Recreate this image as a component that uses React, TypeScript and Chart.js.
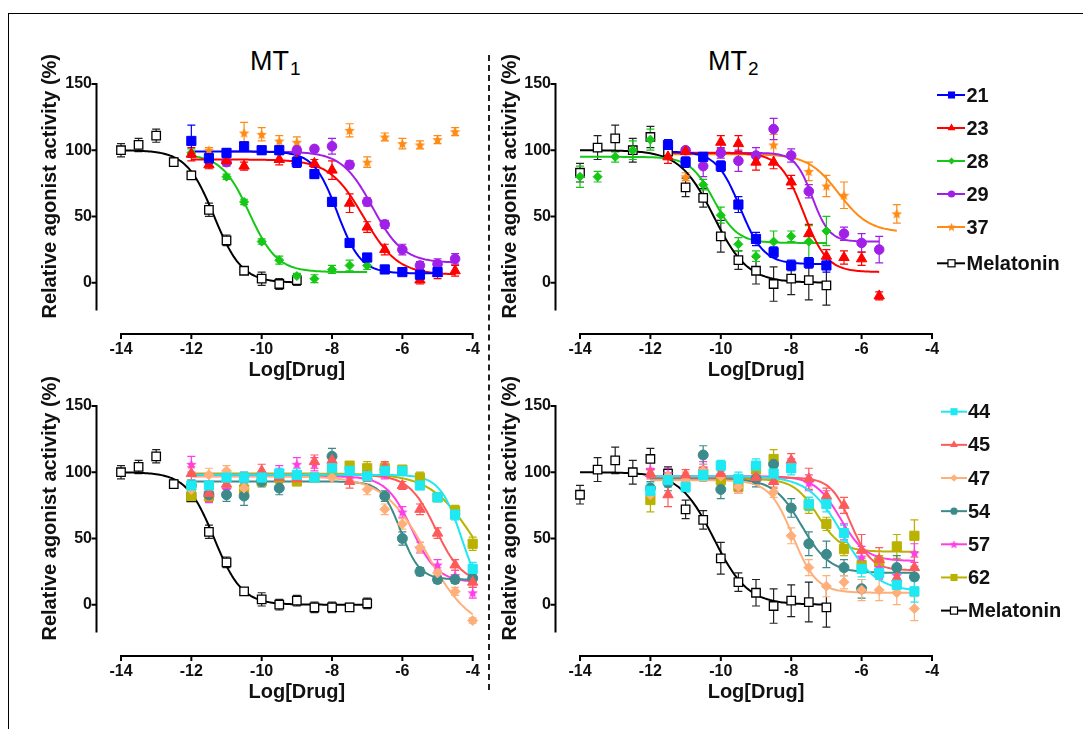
import React, { useEffect, useRef } from 'react';
import { Chart, registerables } from 'chart.js';

Chart.register(...registerables);

const FONT = '"Liberation Sans", Arial, Helvetica, sans-serif';
const _ = null;

// shared dose grid (log M)
const LOG_DOSE = [-14, -13.5, -13, -12.5, -12, -11.5, -11, -10.5, -10, -9.5, -9, -8.5, -8, -7.5, -7, -6.5, -6, -5.5, -5, -4.5, -4];
const X_TICKS = [-14, -12, -10, -8, -6, -4];
const Y_TICKS = [0, 50, 100, 150];

// ---- MT1, compounds 21-37 ----
const MEL_MT1_A = [100, 104, 111, 91, 81, 55, 32, 9, 3, -1, 2, _, _, _, _, _, _, _, _, _, _];
const MEL_MT1_A_ERR = [5, 5, 5, 3, 3, 5, 4, 2, 5, 4, 4, _, _, _, _, _, _, _, _, _, _];
const C21_A = [_, _, _, _, 107, 94, 98, 103, 100, 100, 91, 82, 61, 30, 19, 10, 8, 6, 8, _, _];
const C21_A_ERR = [_, _, _, _, 12, 4, 3, 3, 3, 3, 4, 3, 3, 2, 3, 2, 2, 3, 3, _, _];
const C23_A = [_, _, _, _, 97, 89, 92, 88, _, 93, 92, 90, 85, 60, 42, 25, _, 2, 7, 9, _];
const C23_A_ERR = [_, _, _, _, 5, 3, 3, 3, _, 4, 5, 3, 7, 7, 4, 4, _, 3, 4, 4, _];
const C28_A = [_, _, _, _, 98, _, 80, 61, 31, 17, 5, 3, 10, 13, 13, _, _, _, _, _, _];
const C28_A_ERR = [_, _, _, _, 3, _, 2, 2, 2, 3, 2, 3, 3, 4, 3, _, _, _, _, _, _];
const C29_A = [_, _, _, _, _, _, 91, _, _, _, 100, 101, 103, 89, 61, 44, 25, 13, 14, 18, _];
const C29_A_ERR = [_, _, _, _, _, _, 3, _, _, _, 3, 2, 6, 3, 3, 3, 4, 3, 4, 4, _];
const C37_A = [_, _, _, _, _, 100, _, 113, 112, 107, 106, _, _, 115, 91, 110, 105, 104, 108, 114, _];
const C37_A_ERR = [_, _, _, _, _, 2, _, 8, 5, 4, 4, _, _, 5, 4, 3, 4, 3, 3, 3, _];

// ---- MT2, compounds 21-37 ----
const MEL_MT2 = [83, 102, 109, 100, 110, 99, 72, 64, 35, 17, 9, -1, 3, 2, -2, _, _, _, _, _, _];
const MEL_MT2_ERR = [7, 9, 10, 9, 8, 5, 7, 7, 12, 7, 10, 13, 12, 15, 15, _, _, _, _, _, _];
const C21_B = [_, _, _, _, _, 104, 91, 95, 88, 59, 33, 23, 13, 15, 13, _, _, _, _, _, _];
const C21_B_ERR = [_, _, _, _, _, 4, 4, 3, 4, 6, 5, 4, 4, 4, 5, _, _, _, _, _, _];
const C23_B = [_, _, _, _, _, 95, 99, _, 106, 105, 91, 91, 76, 37, 20, 19, 18, -10, _, _, _];
const C23_B_ERR = [_, _, _, _, _, 5, 2, _, 5, 6, 6, 5, 5, 7, 5, 5, 5, 3, _, _, _];
const C28_B = [80, 80, 95, 100, 108, _, _, 74, 51, 29, 20, 31, 35, 31, 39, _, _, _, _, _, _];
const C28_B_ERR = [8, 4, 4, 7, 8, _, _, 4, 6, 5, 4, 8, 4, 12, 11, _, _, _, _, _, _];
const C29_B = [_, _, _, _, _, _, 100, 88, 98, 92, 96, 116, 96, 69, _, 37, 30, 25, _, _, _];
const C29_B_ERR = [_, _, _, _, _, _, 2, 8, 4, 8, 6, 8, 5, 5, _, 5, 7, 10, _, _, _];
const C37_B = [_, _, _, _, _, _, 80, _, _, _, _, 104, _, 84, 73, 66, _, _, 52, _, _];
const C37_B_ERR = [_, _, _, _, _, _, 3, _, _, _, _, 8, _, 7, 8, 10, _, _, 7, _, _];

// ---- MT1, compounds 44-62 ----
const MEL_MT1_C = [100, 104, 112, 91, 81, 55, 32, 10, 4, 0, 3, -2, -2, -2, 1, _, _, _, _, _, _];
const MEL_MT1_C_ERR = [5, 5, 5, 3, 3, 5, 4, 2, 5, 4, 4, 4, 4, 3, 4, _, _, _, _, _, _];
const C44_C = [_, _, _, _, 90, 90, 96, 96, 96, 99, 98, 96, 103, 101, 97, 101, 101, 90, 81, 68, 27];
const C44_C_ERR = [_, _, _, _, 4, 3, 3, 4, 3, 4, 5, 3, 4, 3, 3, 3, 3, 3, 3, 4, 5];
const C45_C = [_, _, _, _, 99, 84, 91, _, 101, 96, 95, 108, 109, 93, 97, 104, 90, 72, 54, 30, 17];
const C45_C_ERR = [_, _, _, _, 5, 6, 4, _, 5, 4, 5, 5, 5, 5, 4, 4, 3, 4, 4, 4, 4];
const C47_C = [_, _, _, _, 87, 98, 101, 88, _, _, _, _, 96, _, 87, 72, 61, 43, 24, 10, -12];
const C47_C_ERR = [_, _, _, _, 4, 5, 4, 5, _, _, _, _, 3, _, 4, 4, 4, 4, 4, 3, 2];
const C54_C = [_, _, _, _, 90, 83, 83, 82, 93, 88, _, _, 112, _, _, 82, 50, 25, 19, 19, 20];
const C54_C_ERR = [_, _, _, _, 4, 5, 5, 7, 4, 5, _, _, 6, _, _, 4, 5, 3, 3, 3, 3];
const C57_C = [_, _, _, _, 106, 85, 87, 96, _, 101, 106, 106, _, 99, _, 99, 70, 43, 30, 22, 9];
const C57_C_ERR = [_, _, _, _, 6, 8, 6, 4, _, 4, 5, 5, _, 4, _, 4, 4, 4, 4, 4, 4];
const C62_C = [_, _, _, _, 82, 82, _, 87, 93, 96, 93, 96, 102, 105, 103, 103, 102, 96, 81, 71, 46];
const C62_C_ERR = [_, _, _, _, 3, 3, _, 4, 3, 4, 3, 3, 4, 3, 5, 4, 3, 4, 3, 4, 5];

// ---- MT2, compounds 44-62 ----
const C44_D = [_, _, _, _, 86, 94, 89, 98, 105, 95, 105, 99, 103, 76, 76, 54, 27, 24, 15, 10, _];
const C44_D_ERR = [_, _, _, _, 6, 5, 4, 5, 4, 5, 5, 5, 5, 5, 6, 6, 6, 5, 5, 8, _];
const C45_D = [_, _, _, _, 99, 83, 98, _, 99, _, 96, 93, 109, 95, 82, 75, 41, 34, 20, 28, _];
const C45_D_ERR = [_, _, _, _, 4, 9, 4, _, 5, _, 5, 5, 5, 8, 6, 6, 12, 9, 6, 8, _];
const C47_D = [_, _, _, _, 83, 97, 94, 101, 97, 89, _, 85, 52, 28, 14, 17, 11, 11, 9, -3, _];
const C47_D_ERR = [_, _, _, _, 5, 4, 6, 5, 4, 5, _, 4, 6, 6, 8, 5, 8, 8, 9, 9, _];
const C54_D = [_, _, _, _, 88, 92, _, 113, 87, _, 95, 106, 73, 46, 38, 28, 12, _, 28, 21, _];
const C54_D_ERR = [_, _, _, _, 5, 6, _, 7, 7, _, 6, 6, 7, 9, 10, 6, 7, _, 9, 8, _];
const C57_D = [_, _, _, _, 102, 99, _, 103, 98, 89, _, 99, 105, 92, 80, 55, 36, 28, 22, 39, _];
const C57_D_ERR = [_, _, _, _, 6, 4, _, 5, 5, 5, _, 5, 5, 6, 6, 6, 8, 8, 6, 7, _];
const C62_D = [_, _, _, _, 79, 94, _, 99, 94, 89, 102, 110, _, 75, 61, 42, 30, 32, 44, 52, _];
const C62_D_ERR = [_, _, _, _, 9, 5, _, 5, 4, 5, 5, 7, _, 6, 5, 5, 5, 5, 9, 12, _];

// fitted 4-parameter curves: [top, bottom, logEC50, hill, fromX, toX]
const FIT_MEL_A = [100, 0, -11.35, 1.1, -14, -9];
const FIT_21_A = [99, 7, -7.85, 1.3, -12, -5];
const FIT_23_A = [93, 6, -7.1, 0.9, -12, -4.5];
const FIT_28_A = [97, 8, -10.35, 1.1, -12, -7];
const FIT_29_A = [99, 15, -6.85, 1.0, -11, -4.5];
const FIT_MEL_B = [100, 0, -10.2, 0.9, -14, -7];
const FIT_21_B = [99, 14, -9.45, 1.3, -11.5, -7];
const FIT_23_B = [98, 8, -7.65, 1.3, -11.5, -5.5];
const FIT_28_B = [95, 30, -10.2, 1.3, -14, -7];
const FIT_29_B = [98, 31, -7.4, 1.8, -11.5, -5.5];
const FIT_37_B = [97, 38, -6.65, 1.0, -11.5, -5];
const FIT_MEL_C = [100, 0, -11.35, 1.1, -14, -7];
const FIT_44_C = [98, 0, -4.3, 1.4, -12, -4];
const FIT_45_C = [98, 16, -5.05, 1.15, -12, -4];
const FIT_47_C = [97, -20, -5.3, 0.7, -12, -4];
const FIT_54_C = [93, 19, -6.05, 1.6, -12, -4];
const FIT_57_C = [97, 17, -5.73, 1.2, -12, -4];
const FIT_62_C = [99, 0, -3.96, 0.7, -12, -4];
const FIT_44_D = [97, 10, -6.55, 0.9, -12, -4.5];
const FIT_45_D = [96, 26, -6.3, 1.5, -12, -4.5];
const FIT_47_D = [94, 9, -7.95, 1.3, -12, -4.5];
const FIT_54_D = [95, 24, -7.7, 1.1, -12, -4.5];
const FIT_57_D = [97, 33, -6.6, 1.2, -12, -4.5];
const FIT_62_D = [95, 40, -7.25, 1.3, -12, -4.5];

type Shape = 'rect' | 'triangle' | 'rectRot' | 'circle' | 'star' | 'open';
interface Series {
  label: string;
  values: (number | null)[];
  errors: (number | null)[];
  fit: number[] | null;
  color: string;
  shape: Shape;
  r: number;
  lr: number;
}

const COL = {
  c21: '#0000ff', c23: '#ff0000', c28: '#16c816', c29: '#a020e8', c37: '#ff8a14',
  c44: '#1ee8f2', c45: '#ff5a5a', c47: '#ffb07a', c54: '#3d8a8a', c57: '#ff3ee6', c62: '#bab200',
  mel: '#000000',
};

const PANEL_A: Series[] = [
  { label: '21', values: C21_A, errors: C21_A_ERR, fit: FIT_21_A, color: COL.c21, shape: 'rect', r: 6.5, lr: 5 },
  { label: '23', values: C23_A, errors: C23_A_ERR, fit: FIT_23_A, color: COL.c23, shape: 'triangle', r: 6, lr: 4.5 },
  { label: '28', values: C28_A, errors: C28_A_ERR, fit: FIT_28_A, color: COL.c28, shape: 'rectRot', r: 4.5, lr: 3.5 },
  { label: '29', values: C29_A, errors: C29_A_ERR, fit: FIT_29_A, color: COL.c29, shape: 'circle', r: 4.8, lr: 3.6 },
  { label: '37', values: C37_A, errors: C37_A_ERR, fit: null, color: COL.c37, shape: 'star', r: 5.5, lr: 4.5 },
  { label: 'Melatonin', values: MEL_MT1_A, errors: MEL_MT1_A_ERR, fit: FIT_MEL_A, color: COL.mel, shape: 'open', r: 6, lr: 5 },
];
const PANEL_B: Series[] = [
  { label: '21', values: C21_B, errors: C21_B_ERR, fit: FIT_21_B, color: COL.c21, shape: 'rect', r: 6.5, lr: 5 },
  { label: '23', values: C23_B, errors: C23_B_ERR, fit: FIT_23_B, color: COL.c23, shape: 'triangle', r: 6, lr: 4.5 },
  { label: '28', values: C28_B, errors: C28_B_ERR, fit: FIT_28_B, color: COL.c28, shape: 'rectRot', r: 4.5, lr: 3.5 },
  { label: '29', values: C29_B, errors: C29_B_ERR, fit: FIT_29_B, color: COL.c29, shape: 'circle', r: 4.8, lr: 3.6 },
  { label: '37', values: C37_B, errors: C37_B_ERR, fit: FIT_37_B, color: COL.c37, shape: 'star', r: 5.5, lr: 4.5 },
  { label: 'Melatonin', values: MEL_MT2, errors: MEL_MT2_ERR, fit: FIT_MEL_B, color: COL.mel, shape: 'open', r: 6, lr: 5 },
];
const PANEL_C: Series[] = [
  { label: '44', values: C44_C, errors: C44_C_ERR, fit: FIT_44_C, color: COL.c44, shape: 'rect', r: 6.5, lr: 5 },
  { label: '45', values: C45_C, errors: C45_C_ERR, fit: FIT_45_C, color: COL.c45, shape: 'triangle', r: 6, lr: 4.5 },
  { label: '47', values: C47_C, errors: C47_C_ERR, fit: FIT_47_C, color: COL.c47, shape: 'rectRot', r: 5, lr: 3.8 },
  { label: '54', values: C54_C, errors: C54_C_ERR, fit: FIT_54_C, color: COL.c54, shape: 'circle', r: 5, lr: 3.6 },
  { label: '57', values: C57_C, errors: C57_C_ERR, fit: FIT_57_C, color: COL.c57, shape: 'star', r: 5.5, lr: 4.5 },
  { label: '62', values: C62_C, errors: C62_C_ERR, fit: FIT_62_C, color: COL.c62, shape: 'rect', r: 6.5, lr: 5 },
  { label: 'Melatonin', values: MEL_MT1_C, errors: MEL_MT1_C_ERR, fit: FIT_MEL_C, color: COL.mel, shape: 'open', r: 6, lr: 5 },
];
const PANEL_D: Series[] = [
  { label: '44', values: C44_D, errors: C44_D_ERR, fit: FIT_44_D, color: COL.c44, shape: 'rect', r: 6.5, lr: 5 },
  { label: '45', values: C45_D, errors: C45_D_ERR, fit: FIT_45_D, color: COL.c45, shape: 'triangle', r: 6, lr: 4.5 },
  { label: '47', values: C47_D, errors: C47_D_ERR, fit: FIT_47_D, color: COL.c47, shape: 'rectRot', r: 5, lr: 3.8 },
  { label: '54', values: C54_D, errors: C54_D_ERR, fit: FIT_54_D, color: COL.c54, shape: 'circle', r: 5, lr: 3.6 },
  { label: '57', values: C57_D, errors: C57_D_ERR, fit: FIT_57_D, color: COL.c57, shape: 'star', r: 5.5, lr: 4.5 },
  { label: '62', values: C62_D, errors: C62_D_ERR, fit: FIT_62_D, color: COL.c62, shape: 'rect', r: 6.5, lr: 5 },
  { label: 'Melatonin', values: MEL_MT2, errors: MEL_MT2_ERR, fit: FIT_MEL_B, color: COL.mel, shape: 'open', r: 6, lr: 5 },
];

function makeStar(color: string, size: number): HTMLCanvasElement {
  const c = document.createElement('canvas');
  const s = Math.ceil(size);
  c.width = s;
  c.height = s;
  const g = c.getContext('2d')!;
  const cx = s / 2, cy = s / 2 + 0.4, R = s / 2, r = R * 0.45;
  g.beginPath();
  for (let i = 0; i < 10; i++) {
    const a = -Math.PI / 2 + (i * Math.PI) / 5;
    const rad = i % 2 === 0 ? R : r;
    g.lineTo(cx + rad * Math.cos(a), cy + rad * Math.sin(a));
  }
  g.closePath();
  g.fillStyle = color;
  g.fill();
  return c;
}

function fitCurve(fit: number[]) {
  const [T, B, c, h, x0, x1] = fit;
  const pts: { x: number; y: number }[] = [];
  const n = Math.round((x1 - x0) / 0.05);
  for (let i = 0; i <= n; i++) {
    const x = x0 + ((x1 - x0) * i) / n;
    pts.push({ x, y: B + (T - B) / (1 + Math.pow(10, (x - c) * h)) });
  }
  return pts;
}

function drawMarker(ctx: CanvasRenderingContext2D, s: Series, x: number, y: number, r: number) {
  ctx.save();
  ctx.fillStyle = s.color;
  ctx.strokeStyle = s.color;
  if (s.shape === 'rect' || s.shape === 'open') {
    const h = r * Math.SQRT1_2;
    if (s.shape === 'open') {
      ctx.fillStyle = '#fff';
      ctx.fillRect(x - h, y - h, 2 * h, 2 * h);
      ctx.lineWidth = 1.2;
      ctx.strokeStyle = '#000';
      ctx.strokeRect(x - h, y - h, 2 * h, 2 * h);
    } else {
      ctx.fillRect(x - h, y - h, 2 * h, 2 * h);
    }
  } else if (s.shape === 'triangle') {
    ctx.beginPath();
    for (let i = 0; i < 3; i++) {
      const a = (i * 2 * Math.PI) / 3;
      ctx.lineTo(x + Math.sin(a) * r, y - Math.cos(a) * r);
    }
    ctx.closePath();
    ctx.fill();
  } else if (s.shape === 'rectRot') {
    ctx.beginPath();
    ctx.moveTo(x, y - r);
    ctx.lineTo(x + r, y);
    ctx.lineTo(x, y + r);
    ctx.lineTo(x - r, y);
    ctx.closePath();
    ctx.fill();
  } else if (s.shape === 'circle') {
    ctx.beginPath();
    ctx.arc(x, y, r, 0, Math.PI * 2);
    ctx.fill();
  } else if (s.shape === 'star') {
    const img = makeStar(s.color, r * 2);
    ctx.drawImage(img, x - img.width / 2, y - img.height / 2);
  }
  ctx.restore();
}

interface LegendSpec {
  x0: number; x1: number; mx: number; tx: number; y0: number; dy: number; lastExtra: number;
}

interface PanelProps {
  left: number; top: number; width: number; height: number;
  padRight: number; yWidth: number; series: Series[]; legend?: LegendSpec;
}

function Panel({ left, top, width, height, padRight, yWidth, series, legend }: PanelProps) {
  const ref = useRef<HTMLCanvasElement | null>(null);
  useEffect(() => {
    if (!ref.current) return;
    const datasets: any[] = [];
    series.forEach((s) => {
      if (s.fit) {
        datasets.push({
          type: 'line', label: s.label + ' fit', data: fitCurve(s.fit), borderColor: s.color,
          borderWidth: 2, pointRadius: 0, pointHoverRadius: 0, tension: 0, fill: false, order: 2, clip: false,
        });
      }
    });
    series.forEach((s) => {
      const pts: any[] = [];
      LOG_DOSE.forEach((x, i) => {
        const v = s.values[i];
        if (v !== null && v !== undefined) pts.push({ x, y: v, e: s.errors[i] ?? 0 });
      });
      const style = s.shape === 'star' ? makeStar(s.color, s.r * 2) : s.shape === 'open' ? 'rect' : s.shape;
      datasets.push({
        type: 'scatter', label: s.label, data: pts, order: 1, clip: false, showLine: false,
        pointStyle: style, pointRadius: s.r, pointHoverRadius: s.r,
        backgroundColor: s.shape === 'open' ? '#ffffff' : s.color,
        borderColor: s.color, borderWidth: s.shape === 'open' ? 1.3 : 1,
        errColor: s.shape === 'open' ? '#222' : s.color,
      });
    });

    const decor = {
      id: 'decor',
      beforeDatasetsDraw(chart: any) {
        const { ctx, chartArea: ca } = chart;
        const xs = chart.scales.x, ys = chart.scales.y;
        ctx.save();
        ctx.strokeStyle = '#000';
        ctx.lineWidth = 2;
        const ax = ca.left - 24.5;
        ctx.beginPath();
        ctx.moveTo(ax, ys.getPixelForValue(150) - 1);
        ctx.lineTo(ax, ca.bottom);
        Y_TICKS.forEach((v) => {
          const p = ys.getPixelForValue(v);
          ctx.moveTo(ax - 5, p);
          ctx.lineTo(ax + 1, p);
        });
        const ay = ca.bottom + 23.5;
        ctx.moveTo(xs.getPixelForValue(-14) - 1, ay);
        ctx.lineTo(xs.getPixelForValue(-4) + 1, ay);
        X_TICKS.forEach((v) => {
          const p = xs.getPixelForValue(v);
          ctx.moveTo(p, ay - 1);
          ctx.lineTo(p, ay + 5);
        });
        ctx.stroke();
        for (let i = chart.data.datasets.length - 1; i >= 0; i--) {
          const ds = chart.data.datasets[i];
          if (ds.type !== 'scatter') continue;
          const meta = chart.getDatasetMeta(i);
          ctx.strokeStyle = ds.errColor;
          ctx.lineWidth = 1.2;
          ctx.beginPath();
          meta.data.forEach((el: any, j: number) => {
            const raw = ds.data[j];
            if (!raw || !raw.e) return;
            const px = el.x;
            const t = ys.getPixelForValue(raw.y + raw.e);
            const b = ys.getPixelForValue(raw.y - raw.e);
            ctx.moveTo(px, t); ctx.lineTo(px, b);
            ctx.moveTo(px - 4, t); ctx.lineTo(px + 4, t);
            ctx.moveTo(px - 4, b); ctx.lineTo(px + 4, b);
          });
          ctx.stroke();
        }
        ctx.restore();
      },
      afterDraw(chart: any) {
        if (!legend) return;
        const ctx = chart.ctx;
        ctx.save();
        series.forEach((s, i) => {
          const y = legend.y0 + i * legend.dy + (i === series.length - 1 ? legend.lastExtra : 0);
          ctx.strokeStyle = s.color;
          ctx.lineWidth = 2;
          ctx.beginPath();
          ctx.moveTo(legend.x0, y);
          ctx.lineTo(legend.x1, y);
          ctx.stroke();
          drawMarker(ctx, s, legend.mx, y, s.lr);
          ctx.fillStyle = '#111';
          ctx.font = `bold 20px ${FONT}`;
          ctx.textAlign = 'left';
          ctx.textBaseline = 'middle';
          ctx.fillText(s.label, legend.tx, y + 1);
        });
        ctx.restore();
      },
    };

    const tickFont = { family: FONT, size: 16, weight: 'bold' as const };
    const titleFont = { family: FONT, size: 20, weight: 'bold' as const };
    const chart = new Chart(ref.current, {
      type: 'scatter',
      data: { datasets },
      options: {
        responsive: false,
        animation: false,
        events: [],
        layout: { padding: { left: 0, top: 12, right: padRight, bottom: 0 } },
        plugins: { legend: { display: false }, tooltip: { enabled: false } },
        scales: {
          x: {
            type: 'linear', position: 'bottom', min: -14, max: -4, bounds: 'data',
            afterBuildTicks: (s: any) => { s.ticks = X_TICKS.map((v) => ({ value: v })); },
            afterFit: (s: any) => { s.height = 89.5; s.paddingLeft = 0; s.paddingRight = 0; },
            grid: { display: false, drawTicks: false, tickLength: 0 },
            border: { display: false },
            ticks: { padding: 29, font: tickFont, color: '#111', autoSkip: false, maxRotation: 0, minRotation: 0, callback: (v: any) => String(v) },
            title: { display: true, text: 'Log[Drug]', font: titleFont, color: '#111', padding: { top: 0, bottom: 18 } },
          },
          y: {
            type: 'linear', position: 'left', min: -21, max: 166.6, bounds: 'data',
            afterBuildTicks: (s: any) => { s.ticks = Y_TICKS.map((v) => ({ value: v })); },
            afterFit: (s: any) => { s.width = yWidth; s.paddingTop = 0; s.paddingBottom = 0; },
            grid: { display: false, drawTicks: false, tickLength: 0 },
            border: { display: false },
            ticks: { padding: 29, font: tickFont, color: '#111', autoSkip: false, callback: (v: any) => String(v) },
            title: { display: true, text: 'Relative agonist activity (%)', font: titleFont, color: '#111', padding: { top: 8.5, bottom: 0 } },
          },
        },
      } as any,
      plugins: [decor],
    });
    return () => chart.destroy();
  }, []);
  return (
    <canvas
      ref={ref}
      width={width}
      height={height}
      style={{ position: 'absolute', left, top, width, height }}
    />
  );
}

function Title({ left, sub }: { left: number; sub: string }) {
  return (
    <div
      style={{
        position: 'absolute', left, top: 47.8, fontSize: 27, lineHeight: '27px',
        whiteSpace: 'nowrap', color: '#000', fontFamily: FONT,
      }}
    >
      MT<span style={{ fontSize: 19, position: 'relative', top: 5, marginLeft: 1 }}>{sub}</span>
    </div>
  );
}

export default function App() {
  return (
    <div
      style={{
        position: 'absolute', left: 0, top: 0, width: 1083, height: 729,
        overflow: 'hidden', background: '#fff', fontFamily: FONT,
      }}
    >
      <div
        style={{
          position: 'absolute', left: 8, top: 12.5, width: 1100, height: 740,
          borderTop: '1.5px solid #000', borderLeft: '1.5px solid #000', boxSizing: 'border-box',
        }}
      />
      <div style={{ position: 'absolute', left: 487.5, top: 55, height: 635, borderLeft: '2px dashed #222' }} />
      <Title left={250} sub="1" />
      <Title left={708} sub="2" />
      <Panel left={30} top={50} width={460} height={350} padRight={17.3} yWidth={91} series={PANEL_A} />
      <Panel
        left={490} top={50} width={593} height={350} padRight={151} yWidth={90} series={PANEL_B}
        legend={{ x0: 447, x1: 475, mx: 461.5, tx: 476.5, y0: 45, dy: 33, lastExtra: 3.3 }}
      />
      <Panel left={30} top={372} width={460} height={350} padRight={17.3} yWidth={91} series={PANEL_C} />
      <Panel
        left={490} top={372} width={593} height={350} padRight={151} yWidth={90} series={PANEL_D}
        legend={{ x0: 451, x1: 477, mx: 464, tx: 478, y0: 39.7, dy: 33.15, lastExtra: 0 }}
      />
    </div>
  );
}
